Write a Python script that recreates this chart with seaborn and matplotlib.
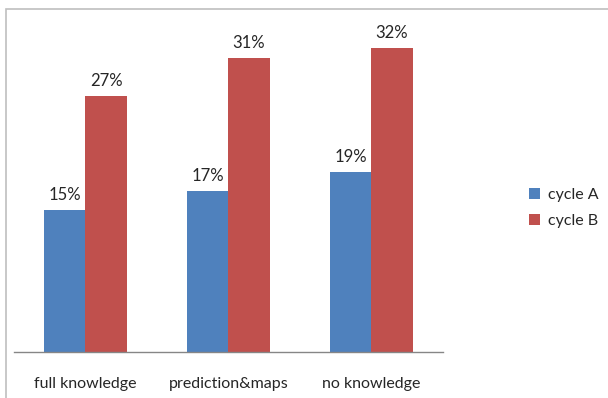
import matplotlib
matplotlib.use("Agg")
import matplotlib.pyplot as plt
import matplotlib.patches as mpatches
import seaborn as sns
import pandas as pd

categories = ["full knowledge", "prediction&maps", "no knowledge"]
cycle_a = [15, 17, 19]
cycle_b = [27, 31, 32]
series_names = ["cycle A", "cycle B"]
colors = ["#4F81BD", "#C0504D"]

df = pd.DataFrame({
    "category": categories * 2,
    "value": cycle_a + cycle_b,
    "series": [series_names[0]] * 3 + [series_names[1]] * 3,
})

sns.set_style("white")
plt.rcParams["font.family"] = ["Lato", "DejaVu Sans"]

W, H = 608, 398
fig = plt.figure(figsize=(W / 100, H / 100), dpi=100)

# outer chart frame
fig.patches.append(mpatches.Rectangle((6 / W, -0.1), 1.2, (H - 9) / H + 0.1,
                                      transform=fig.transFigure, fill=False,
                                      edgecolor="#BFBFBF", linewidth=1.2))

left, right, bottom, top = 14, 443, 352, 20
ax = fig.add_axes([left / W, (H - bottom) / H, (right - left) / W, (bottom - top) / H])

sns.barplot(data=df, x="category", y="value", hue="series", palette=colors,
            width=0.575, saturation=1, ax=ax, legend=True, linewidth=0)

ax.set_ylim(0, (bottom - top) / 9.5)
ax.set_xlim(-0.5, 2.5)
ax.set_xlabel("")
ax.set_ylabel("")
ax.set_yticks([])
for s in ["top", "right", "left"]:
    ax.spines[s].set_visible(False)
ax.spines["bottom"].set_color("#868686")
ax.spines["bottom"].set_linewidth(1)
ax.set_xticks([0, 1, 2])
ax.set_xticklabels(categories, fontsize=11.5)
ax.set_xticks([-0.5, 0.5, 1.5, 2.5], minor=True)
ax.tick_params(axis="x", which="major", length=0, pad=18)
ax.tick_params(axis="x", which="minor", length=6, color="#868686", direction="out")
ax.patch.set_alpha(0)

for cont in ax.containers:
    ax.bar_label(cont, labels=[f"{v:.0f}%" for v in cont.datavalues],
                 padding=5, fontsize=12)

handles, labels = ax.get_legend_handles_labels()
ax.get_legend().remove()
fig.legend(handles, labels, loc="center left",
           bbox_to_anchor=(529 / W, 1 - 208 / H), bbox_transform=fig.transFigure,
           frameon=False, fontsize=11.5, handlelength=0.7, handleheight=0.7,
           labelspacing=0.75, handletextpad=0.5, borderpad=0, borderaxespad=0)

fig.savefig("out.png", dpi=100)
